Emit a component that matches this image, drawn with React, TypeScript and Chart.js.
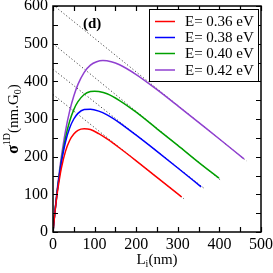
import React, { useEffect, useRef } from "react";
import { Chart, registerables } from "chart.js";
Chart.register(...registerables);

// Curves (L_i in nm, sigma^1D in nm.G0)
const xRed = [0, 2, 5, 10, 15, 20, 30, 40, 50, 60, 75, 90, 110, 130, 160, 200, 250, 300, 309];
const yRed = [0, 23, 55, 101, 138, 169, 214, 243, 260, 270, 274, 272, 261, 247, 223, 189, 145, 101, 93];

const xBlue = [0, 2, 5, 10, 15, 20, 30, 40, 50, 60, 75, 90, 110, 130, 160, 200, 250, 300, 356];
const yBlue = [0, 24, 57, 106, 148, 184, 239, 276, 300, 315, 325, 326, 321, 311, 290, 257, 214, 170, 120];

const xGreen = [0, 2, 5, 10, 15, 20, 30, 40, 50, 60, 75, 90, 100, 110, 130, 160, 200, 250, 300, 350, 399];
const yGreen = [0, 24, 57, 107, 150, 188, 250, 294, 325, 346, 365, 373, 374, 373, 367, 349, 318, 274, 230, 185, 143];

const xPurple = [0, 2, 5, 10, 15, 20, 30, 40, 50, 60, 75, 90, 105, 120, 140, 160, 200, 250, 300, 350, 400, 459];
const yPurple = [0, 24, 59, 112, 158, 199, 268, 321, 361, 392, 424, 443, 452, 455, 452, 444, 418, 378, 335, 291, 247, 194];

// Dotted linear asymptotes: [start, end]
const asymRedX = [0, 315];
const asymRedY = [365, 88];
const asymBlueX = [0, 362];
const asymBlueY = [432, 117];
const asymGreenX = [0, 405];
const asymGreenY = [500, 136];
const asymPurpleX = [0, 465];
const asymPurpleY = [603, 189];

const seriesLabels = ["E= 0.36 eV", "E= 0.38 eV", "E= 0.40 eV", "E= 0.42 eV"];
const seriesColors = ["#ff0000", "#0000ff", "#00a000", "#9040d0"];

const xTicks = [0, 100, 200, 300, 400, 500];
const yTicks = [0, 100, 200, 300, 400, 500, 600];
const minorStep = 50;

const FONT = "'Liberation Serif', 'DejaVu Serif', serif";

function pts(xs: number[], ys: number[]) {
  return xs.map((x, i) => ({ x, y: ys[i] }));
}

const framePlugin = {
  id: "frameTicks",
  afterDraw(chart: any) {
    const { ctx, chartArea: a, scales } = chart;
    const xs = scales.x;
    const ys = scales.y;
    ctx.save();
    ctx.strokeStyle = "#000";
    ctx.lineWidth = 1.5;
    ctx.strokeRect(a.left, a.top, a.right - a.left, a.bottom - a.top);
    ctx.lineWidth = 1.2;
    const tl = 5;
    ctx.beginPath();
    for (let v = xs.min; v <= xs.max + 1e-6; v += minorStep) {
      const p = Math.round(xs.getPixelForValue(v)) + 0.5;
      ctx.moveTo(p, a.bottom);
      ctx.lineTo(p, a.bottom - tl);
      ctx.moveTo(p, a.top);
      ctx.lineTo(p, a.top + tl);
    }
    for (let v = ys.min; v <= ys.max + 1e-6; v += minorStep) {
      const p = Math.round(ys.getPixelForValue(v)) + 0.5;
      ctx.moveTo(a.left, p);
      ctx.lineTo(a.left + tl, p);
      ctx.moveTo(a.right, p);
      ctx.lineTo(a.right - tl, p);
    }
    ctx.stroke();

    // panel label
    ctx.fillStyle = "#000";
    ctx.font = `bold 15px ${FONT}`;
    ctx.textBaseline = "alphabetic";
    ctx.textAlign = "left";
    ctx.fillText("(d)", a.left + 30, a.top + 22);

    // legend
    const lx = 149, ly = 9, lw = 109, lh = 72;
    ctx.fillStyle = "#fff";
    ctx.fillRect(lx, ly, lw, lh);
    ctx.strokeStyle = "#000";
    ctx.lineWidth = 1;
    ctx.strokeRect(lx + 0.5, ly + 0.5, lw, lh);
    const rows = [21.5, 37.5, 53.5, 70];
    ctx.font = `15px ${FONT}`;
    ctx.textBaseline = "middle";
    seriesLabels.forEach((lab, i) => {
      ctx.strokeStyle = seriesColors[i];
      ctx.lineWidth = 1.5;
      ctx.beginPath();
      ctx.moveTo(155, rows[i]);
      ctx.lineTo(175, rows[i]);
      ctx.stroke();
      ctx.fillStyle = "#000";
      ctx.fillText(lab, 185, rows[i] + 1);
    });

    // x title: L_i(nm)
    ctx.textBaseline = "alphabetic";
    const big = `15px ${FONT}`;
    const small = `10px ${FONT}`;
    ctx.font = big;
    const wL = ctx.measureText("L").width;
    const wNm = ctx.measureText("(nm)").width;
    ctx.font = small;
    const wi = ctx.measureText("i").width;
    const totalX = wL + wi + wNm;
    let cx = (a.left + a.right) / 2 - totalX / 2;
    const by = 264;
    ctx.fillStyle = "#000";
    ctx.font = big;
    ctx.fillText("L", cx, by);
    cx += wL;
    ctx.font = small;
    ctx.fillText("i", cx, by + 3);
    cx += wi;
    ctx.font = big;
    ctx.fillText("(nm)", cx, by);

    // y title: sigma^1D (nm.G_0)
    const parts: [string, string, number][] = [
      ["σ", `bold 16px ${FONT}`, 0],
      ["1D", `10px ${FONT}`, -8],
      ["(nm.G", `15px ${FONT}`, 0],
      ["0", `10px ${FONT}`, 3],
      [")", `15px ${FONT}`, 0],
    ];
    let tot = 0;
    const widths = parts.map(([t, f]) => {
      ctx.font = f;
      const w = ctx.measureText(t).width;
      tot += w;
      return w;
    });
    ctx.translate(18, 119);
    ctx.rotate(-Math.PI / 2);
    let px = -tot / 2;
    parts.forEach(([t, f, dy], i) => {
      ctx.font = f;
      ctx.fillText(t, px, dy);
      px += widths[i];
    });
    ctx.restore();
  },
};

export default function App() {
  const ref = useRef<HTMLCanvasElement | null>(null);
  useEffect(() => {
    if (!ref.current) return;
    const curve = (label: string, xs: number[], ys: number[], color: string) => ({
      label,
      data: pts(xs, ys),
      borderColor: color,
      backgroundColor: color,
      borderWidth: 1.5,
      pointRadius: 0,
      cubicInterpolationMode: "monotone" as const,
      fill: false,
      order: 0,
    });
    const dotted = (xs: number[], ys: number[]) => ({
      label: "",
      data: pts(xs, ys),
      borderColor: "#444",
      borderWidth: 1,
      borderDash: [1.2, 2.2],
      pointRadius: 0,
      fill: false,
      order: 1,
    });
    const chart = new Chart(ref.current, {
      type: "line",
      data: {
        datasets: [
          curve(seriesLabels[0], xRed, yRed, seriesColors[0]),
          curve(seriesLabels[1], xBlue, yBlue, seriesColors[1]),
          curve(seriesLabels[2], xGreen, yGreen, seriesColors[2]),
          curve(seriesLabels[3], xPurple, yPurple, seriesColors[3]),
          dotted(asymRedX, asymRedY),
          dotted(asymBlueX, asymBlueY),
          dotted(asymGreenX, asymGreenY),
          dotted(asymPurpleX, asymPurpleY),
        ] as any,
      },
      options: {
        animation: false,
        responsive: true,
        maintainAspectRatio: false,
        layout: { padding: { left: 0, top: 6, right: 12, bottom: 0 } },
        plugins: { legend: { display: false }, tooltip: { enabled: false } },
        scales: {
          x: {
            type: "linear",
            min: 0,
            max: 500,
            grid: { display: false, drawTicks: false },
            border: { display: false },
            afterBuildTicks: (s: any) => {
              s.ticks = xTicks.map((v) => ({ value: v }));
            },
            afterFit: (s: any) => {
              s.height = 41;
              s.paddingLeft = 0;
              s.paddingRight = 0;
            },
            ticks: {
              color: "#000",
              padding: 3,
              maxRotation: 0,
              font: { family: FONT, size: 16 },
            },
          },
          y: {
            type: "linear",
            min: 0,
            max: 600,
            grid: { display: false, drawTicks: false },
            border: { display: false },
            afterBuildTicks: (s: any) => {
              s.ticks = yTicks.map((v) => ({ value: v }));
            },
            afterFit: (s: any) => {
              s.width = 53;
              s.paddingTop = 0;
              s.paddingBottom = 0;
            },
            ticks: {
              color: "#000",
              padding: 5,
              font: { family: FONT, size: 16 },
            },
          },
        },
      },
      plugins: [framePlugin],
    });
    return () => chart.destroy();
  }, []);
  return (
    <div style={{ position: "fixed", left: 0, top: 0, width: 273, height: 273, background: "#fff" }}>
      <canvas ref={ref} />
    </div>
  );
}
